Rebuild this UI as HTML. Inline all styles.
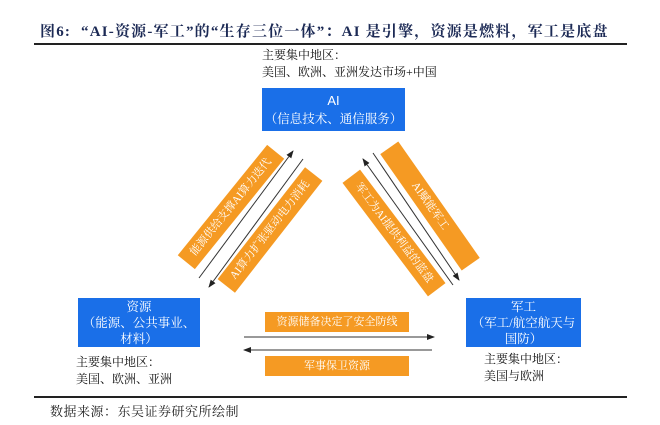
<!DOCTYPE html>
<html><head><meta charset="utf-8"><style>
body{margin:0;width:660px;height:425px;background:#fff;overflow:hidden;position:relative;font-family:"Liberation Serif","Noto Serif CJK SC",serif;}
.a{position:absolute;}
.t{font-size:12px;color:#111;line-height:17px;}
.box{position:absolute;background:#1a6fe8;color:#fff;text-align:center;font-size:12.5px;line-height:18px;display:flex;flex-direction:column;justify-content:center;}
.ob{position:absolute;background:#f59a23;color:#fff;font-size:11px;text-align:center;line-height:22px;}
</style></head><body>
<div class="a" style="left:40px;top:20px;font-size:15px;font-weight:bold;color:#1c2a55;white-space:nowrap;letter-spacing:1.2px">图6:&nbsp;&nbsp;“AI-资源-军工”的“生存三位一体”：AI 是引擎，资源是燃料，军工是底盘</div>
<div class="a" style="left:34px;top:43px;width:593px;height:2px;background:#222"></div>
<div class="a t" style="left:262px;top:47px">主要集中地区：<br>美国、欧洲、亚洲发达市场+中国</div>
<div class="box" style="left:262px;top:88px;width:143px;height:43px"><span style="font-family:'Liberation Sans',sans-serif;font-size:13px">AI</span><span>（信息技术、通信服务）</span></div>
<div class="box" style="left:78px;top:298px;width:122px;height:49px;line-height:16px"><span>资源</span><span>（能源、公共事业、</span><span>材料）</span></div>
<div class="box" style="left:466px;top:298px;width:115px;height:49px;line-height:16px"><span>军工</span><span>（军工/航空航天与</span><span>国防）</span></div>
<div class="a t" style="left:76px;top:354px">主要集中地区：<br>美国、欧洲、亚洲</div>
<div class="a t" style="left:484px;top:351px">主要集中地区：<br>美国与欧洲</div>
<div class="ob" style="left:265px;top:312px;width:144px;height:20px;line-height:20px">资源储备决定了安全防线</div>
<div class="ob" style="left:265px;top:356px;width:144px;height:20px;line-height:20px">军事保卫资源</div>
<div class="ob" style="left:160px;top:196px;width:142px;height:22px;transform:rotate(-51deg)">能源供给支撑AI算力迭代</div>
<div class="ob" style="left:199px;top:219px;width:142px;height:22px;transform:rotate(-52deg)">AI算力扩张驱动电力消耗</div>
<div class="ob" style="left:323px;top:222px;width:142px;height:22px;transform:rotate(53deg)">军工为AI提供利益的蓝盘</div>
<div class="ob" style="left:359px;top:195px;width:142px;height:22px;transform:rotate(55deg)">AI赋能军工</div>
<svg class="a" style="left:0;top:0" width="660" height="425">
<defs><marker id="m" markerWidth="8" markerHeight="8" refX="7" refY="4" orient="auto" markerUnits="userSpaceOnUse"><path d="M0,1 L8,4 L0,7 z" fill="#222"/></marker></defs>
<g stroke="#333" stroke-width="1" marker-end="url(#m)">
<line x1="199" y1="278" x2="293" y2="151"/>
<line x1="303" y1="159" x2="209" y2="287"/>
<line x1="453" y1="285" x2="363" y2="159"/>
<line x1="373" y1="153" x2="459" y2="280"/>
<line x1="244" y1="337" x2="434" y2="337"/>
<line x1="432" y1="350" x2="244" y2="350"/>
</g></svg>
<div class="a" style="left:34px;top:396px;width:593px;height:2px;background:#222"></div>
<div class="a" style="left:50px;top:401px;font-size:13px;color:#222;letter-spacing:0.5px">数据来源：东吴证券研究所绘制</div>
</body></html>
